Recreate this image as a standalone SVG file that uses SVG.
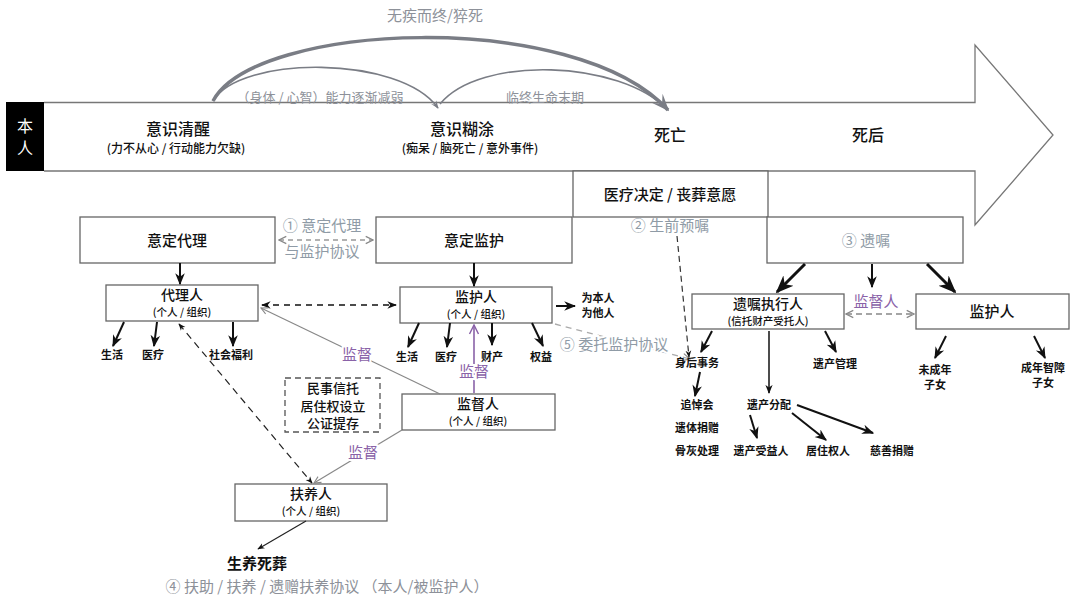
<svg xmlns="http://www.w3.org/2000/svg" width="1080" height="605" viewBox="0 0 1080 605">
<defs>
<style>
text{font-family:"Noto Sans CJK SC","Noto Sans",sans-serif;text-anchor:middle;fill:#111}
.t16{font-size:16px;font-weight:500}
.t15{font-size:15px;font-weight:500}
.t14{font-size:14px;font-weight:500}
.t13{font-size:13px;font-weight:500}
.t12{font-size:12px;font-weight:500}
.t11{font-size:11px;font-weight:600}
.s10{font-size:10.5px;font-weight:500}
.g{fill:#8d9199;font-weight:400}
.gb{fill:#8f9ba6;font-weight:400}
.p{fill:#8a62a8;font-weight:400}
.box{fill:#fff;stroke:#666;stroke-width:1.3}
.blk{stroke:#111;stroke-width:2;fill:none}
.blkt{stroke:#111;stroke-width:3;fill:none}
.gl{stroke:#888;stroke-width:1.2;fill:none}
.halo{paint-order:stroke;stroke:#fff;stroke-width:4px}
</style>
<marker id="ab" viewBox="0 0 10 10" refX="9" refY="5" markerWidth="6" markerHeight="6" orient="auto-start-reverse"><path d="M0,1 L10,5 L0,9 L3,5 Z" fill="#111"/></marker>
<marker id="ag" viewBox="0 0 10 10" refX="9" refY="5" markerWidth="7" markerHeight="7" orient="auto-start-reverse"><path d="M1,1 L9,5 L1,9" fill="none" stroke="#888" stroke-width="1.3"/></marker>
<marker id="ap" viewBox="0 0 10 10" refX="9" refY="5" markerWidth="7" markerHeight="7" orient="auto"><path d="M1,1 L9,5 L1,9" fill="none" stroke="#8a62a8" stroke-width="1.3"/></marker>
<marker id="ac" viewBox="0 0 10 10" refX="9" refY="5" markerWidth="5" markerHeight="5" orient="auto"><path d="M0,1 L10,5 L0,9 L4,5 Z" fill="#7a7d85"/></marker>
</defs>
<rect width="1080" height="605" fill="#fff"/>

<g id="timeline">
<path d="M44,102.5 H975 V45 L1053,135 L975,225 V171 H44" fill="#fff" stroke="#777" stroke-width="1.3"/>
<rect x="6" y="102" width="38" height="69" fill="#000"/>
<text x="25" y="132" class="t16" style="fill:#fff;font-weight:400">本</text>
<text x="25" y="154" class="t16" style="fill:#fff;font-weight:400">人</text>
<text x="178" y="135" class="t16">意识清醒</text>
<text x="176" y="153" class="t12">(力不从心 / 行动能力欠缺)</text>
<text x="462" y="135" class="t16">意识糊涂</text>
<text x="470" y="153" class="t12">(痴呆 / 脑死亡 / 意外事件)</text>
<text x="670" y="141" class="t16">死亡</text>
<text x="868" y="141" class="t16">死后</text>
</g>

<g id="arcs">
<path d="M213,101 C255,22 575,8 668,110" fill="none" stroke="#7a7d85" stroke-width="3.5" marker-end="url(#ac)"/>
<path d="M213,101 C240,55 400,55 438,108" fill="none" stroke="#7a7d85" stroke-width="1.6" marker-end="url(#ac)"/>
<path d="M440,104 C480,55 620,60 668,110" fill="none" stroke="#7a7d85" stroke-width="1.6"/>
<text x="435" y="21" class="t15 g">无疾而终/猝死</text>
<text x="320" y="102" class="t13 g">（身体 / 心智）能力逐渐减弱</text>
<text x="545" y="102" class="t13 g">临终生命末期</text>
</g>

<g id="n-yidingdaili"><rect x="80" y="217" width="195" height="46" class="box"/><text x="177" y="246" class="t15">意定代理</text></g>
<g id="n-yidingjianhu"><rect x="376" y="217" width="196" height="46" class="box"/><text x="474" y="246" class="t15">意定监护</text></g>
<g id="n-yiliao"><rect x="573" y="171" width="195" height="46" class="box"/><text x="670" y="200" class="t15">医疗决定 / 丧葬意愿</text></g>
<g id="n-yizhu"><rect x="767" y="217" width="196" height="46" class="box"/><text x="866" y="246" class="t15 gb">③ 遗嘱</text></g>

<g id="n-dailiren"><rect x="106" y="285" width="152" height="36" class="box"/><text x="182" y="300" class="t14">代理人</text><text x="182" y="316" class="s10">(个人 / 组织)</text></g>
<g id="n-jianhuren"><rect x="400" y="287" width="152" height="36" class="box"/><text x="476" y="302" class="t14">监护人</text><text x="476" y="318" class="s10">(个人 / 组织)</text></g>
<g id="n-jianduren"><rect x="402" y="394" width="153" height="36" class="box"/><text x="478" y="409" class="t14">监督人</text><text x="478" y="425" class="s10">(个人 / 组织)</text></g>
<g id="n-fuyangren"><rect x="235" y="484" width="152" height="37" class="box"/><text x="311" y="499" class="t14">扶养人</text><text x="311" y="515" class="s10">(个人 / 组织)</text></g>
<g id="n-trust"><rect x="285" y="378" width="95" height="54" fill="#fff" stroke="#555" stroke-width="1.3" stroke-dasharray="6,4"/><text x="333" y="393" class="t13">民事信托</text><text x="333" y="410.5" class="t13">居住权设立</text><text x="333" y="428" class="t13">公证提存</text></g>
<g id="n-zhixingren"><rect x="692" y="294" width="152" height="35" class="box"/><text x="768" y="309" class="t14">遗嘱执行人</text><text x="768" y="325" class="s10">(信托财产受托人)</text></g>
<g id="n-jianhuren2"><rect x="916" y="294" width="153" height="35" class="box"/><text x="992" y="317" class="t15">监护人</text></g>

<g id="connectors">
<path d="M180,263 V284" class="blk" marker-end="url(#ab)"/>
<path d="M474,263 V286" class="blk" marker-end="url(#ab)"/>
<path d="M124,322 L113,346" class="blk" marker-end="url(#ab)"/>
<path d="M157,322 L154,346" class="blk" marker-end="url(#ab)"/>
<path d="M233,322 V346" class="blk" marker-end="url(#ab)"/>
<path d="M419,323 L408,347" class="blk" marker-end="url(#ab)"/>
<path d="M450,323 L447,347" class="blk" marker-end="url(#ab)"/>
<path d="M492,323 V345" class="blk" marker-end="url(#ab)"/>
<path d="M532,323 L543,346" class="blk" marker-end="url(#ab)"/>
<path d="M556,306 H575" class="blk" marker-end="url(#ab)"/>
<path d="M262,305 H396" fill="none" stroke="#111" stroke-width="1.6" stroke-dasharray="6,5" marker-start="url(#ab)" marker-end="url(#ab)"/>
<path d="M279,240 H373" fill="none" stroke="#999" stroke-width="1.3" stroke-dasharray="5,4" marker-start="url(#ag)" marker-end="url(#ag)"/>
<path d="M474,393 V325" fill="none" stroke="#8a62a8" stroke-width="1.6" marker-end="url(#ap)"/>
<path d="M440,394 L261,308" class="gl" marker-end="url(#ag)"/>
<path d="M402,430 L314,483" class="gl" marker-end="url(#ag)"/>
<path d="M179,324 L312,483" fill="none" stroke="#222" stroke-width="1.2" stroke-dasharray="7,5" marker-start="url(#ab)" marker-end="url(#ab)"/>
<path d="M306,521 L258,549" fill="none" stroke="#222" stroke-width="1.2" marker-end="url(#ab)"/>
<path d="M555,324 L690,359" fill="none" stroke="#aaa" stroke-width="1.3" stroke-dasharray="6,5" marker-end="url(#ag)"/>
<path d="M677,236 L689,357" fill="none" stroke="#333" stroke-width="1.2" stroke-dasharray="6,4" marker-end="url(#ab)"/>
<path d="M805,264 L777,292" class="blkt" marker-end="url(#ab)"/>
<path d="M872,264 V287" class="blk" marker-end="url(#ab)"/>
<path d="M927,264 L955,292" class="blkt" marker-end="url(#ab)"/>
<path d="M846,314 H914" fill="none" stroke="#888" stroke-width="1.3" stroke-dasharray="6,4" marker-start="url(#ag)" marker-end="url(#ag)"/>
<path d="M712,331 L701,352" class="blk" marker-end="url(#ab)"/>
<path d="M769,331 V393" fill="none" stroke="#111" stroke-width="1.5" marker-end="url(#ab)"/>
<path d="M825,331 L836,352" class="blk" marker-end="url(#ab)"/>
<path d="M700,372 L695,396" class="blk" marker-end="url(#ab)"/>
<path d="M750,415 L757,438" class="blk" marker-end="url(#ab)"/>
<path d="M792,413 L826,440" class="blk" marker-end="url(#ab)"/>
<path d="M797,405 L873,433" class="blk" marker-end="url(#ab)"/>
<path d="M946,336 L935,358" class="blk" marker-end="url(#ab)"/>
<path d="M1034,336 L1045,358" class="blk" marker-end="url(#ab)"/>
</g>

<g id="labels">
<text x="322" y="231" class="t15 gb">① 意定代理</text>
<text x="322" y="257" class="t15 gb">与监护协议</text>
<text x="670" y="231" class="t15 gb">② 生前预嘱</text>
<text x="614" y="350" class="t15 gb halo">⑤ 委托监护协议</text>
<text x="474" y="377" class="t15 p halo">监督</text>
<text x="357" y="360" class="t15 p halo">监督</text>
<text x="363" y="458" class="t15 p halo">监督</text>
<text x="876" y="307" class="t15 p">监督人</text>
<text x="112" y="359" class="t11">生活</text>
<text x="153" y="359" class="t11">医疗</text>
<text x="231" y="359" class="t11">社会福利</text>
<text x="407" y="361" class="t11">生活</text>
<text x="446" y="361" class="t11">医疗</text>
<text x="492" y="361" class="t11">财产</text>
<text x="541" y="361" class="t11">权益</text>
<text x="598" y="302" class="t11">为本人</text>
<text x="598" y="317" class="t11">为他人</text>
<text x="697" y="367" class="t11">身后事务</text>
<text x="835" y="368" class="t11">遗产管理</text>
<text x="697" y="409" class="t11">追悼会</text>
<text x="697" y="432" class="t11">遗体捐赠</text>
<text x="697" y="455" class="t11">骨灰处理</text>
<text x="769" y="409" class="t11">遗产分配</text>
<text x="761" y="455" class="t11">遗产受益人</text>
<text x="828" y="455" class="t11">居住权人</text>
<text x="892" y="455" class="t11">慈善捐赠</text>
<text x="935" y="374" class="t11">未成年</text>
<text x="935" y="389" class="t11">子女</text>
<text x="1043" y="372" class="t11">成年智障</text>
<text x="1043" y="387" class="t11">子女</text>
<text x="257" y="569" class="t15" style="font-weight:600">生养死葬</text>
<text x="327" y="592" class="t15 g">④ 扶助 / 扶养 / 遗赠扶养协议 （本人/被监护人）</text>
</g>
</svg>
